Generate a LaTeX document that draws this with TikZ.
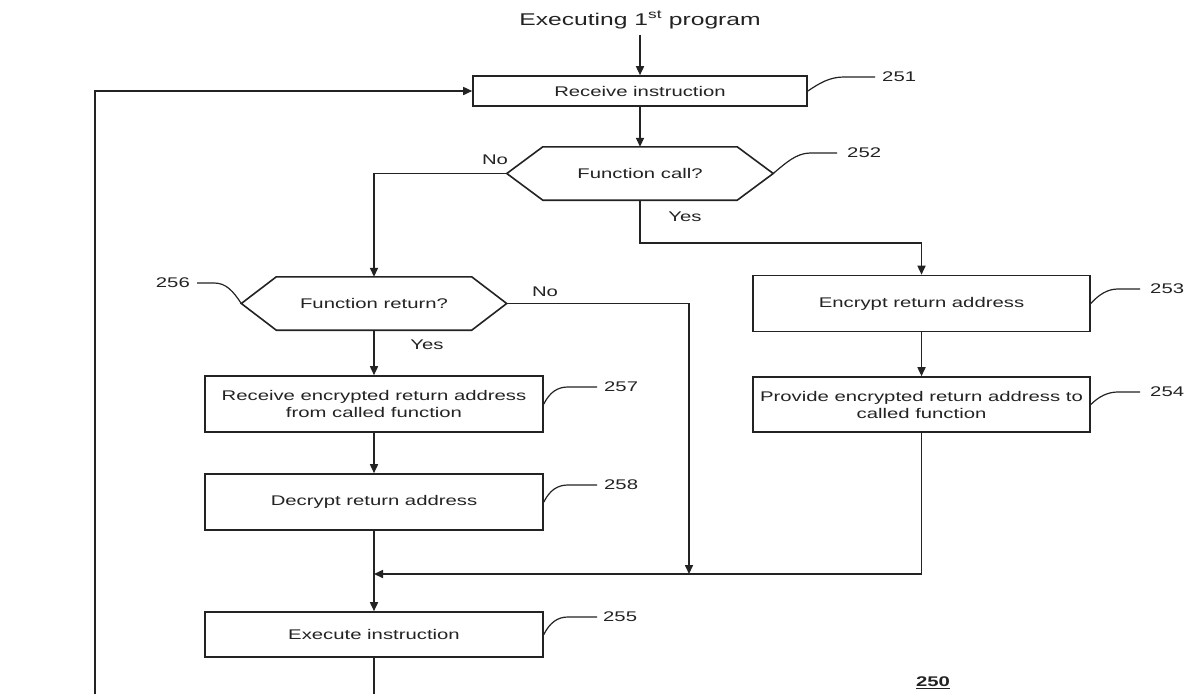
\documentclass[tikz,border=0pt]{standalone}
\usepackage{fontspec}
\setmainfont{Liberation Sans}[FakeStretch=1.45]
\usetikzlibrary{arrows.meta}
\definecolor{ink}{RGB}{35,35,35}
\begin{document}
\begin{tikzpicture}[x=1pt,y=-1pt,
  line/.style={draw=ink, line width=1.6pt},
  arr/.style={line, -{Triangle[length=9pt,width=8pt]}},
  lead/.style={draw=ink, line width=1.2pt},
  txt/.style={text=ink, font=\fontsize{14}{17}\selectfont, inner sep=0pt},
  box/.style={line, txt, rectangle, align=center},
  hexbase/.style={txt, rectangle, minimum height=53pt},
  tag/.style={txt, anchor=west},
  tagl/.style={txt, anchor=east},
  ans/.style={txt}
]
\fill[white] (0,0) rectangle (1198,694);
\useasboundingbox (0,0) rectangle (1198,694);

% start label
\node[txt, font=\fontsize{17}{20}\selectfont] (title) at (640,20) {Executing 1\textsuperscript{st} program};

% process boxes
\node[box, minimum width=334pt, minimum height=30pt] (n251) at (640,91) {Receive instruction};
\node[box, minimum width=337pt, minimum height=56pt] (n253) at (921.5,303.5) {Encrypt return address};
\node[box, minimum width=337pt, minimum height=55pt] (n254) at (921.5,404.5) {Provide encrypted return address to\\called function};
\node[box, minimum width=338pt, minimum height=56pt] (n257) at (374,404) {Receive encrypted return address\\from called function};
\node[box, minimum width=338pt, minimum height=56pt] (n258) at (374,502) {Decrypt return address};
\node[box, minimum width=338pt, minimum height=45pt] (n255) at (374,634.5) {Execute instruction};

% decision hexagons
\node[hexbase, minimum width=266pt] (n252) at (640,173.5) {Function call?};
\draw[line] (n252.west) -- ([xshift=36pt]n252.north west) -- ([xshift=-36pt]n252.north east)
  -- (n252.east) -- ([xshift=-36pt]n252.south east) -- ([xshift=36pt]n252.south west) -- cycle;
\node[hexbase, minimum width=265pt] (n256) at (374,303.5) {Function return?};
\draw[line] (n256.west) -- ([xshift=35pt]n256.north west) -- ([xshift=-35pt]n256.north east)
  -- (n256.east) -- ([xshift=-35pt]n256.south east) -- ([xshift=35pt]n256.south west) -- cycle;

% branch answers
\node[ans] (no1) at (495,160) {No};
\node[ans] (yes1) at (685,217) {Yes};
\node[ans] (no2) at (545,292) {No};
\node[ans] (yes2) at (427,345) {Yes};

% free ends and junctions
\coordinate (mergeL) at (374,574);
\coordinate (mergeR) at (689,574);
\coordinate (exitB) at (374,694);
\coordinate (loopB) at (95,694);

% flow connectors
\draw[arr] ([yshift=-6pt]title.south) -- (n251.north);
\draw[arr] (n251.south) -- (n252.north);
\draw[arr] (n252.west) -| (n256.north);
\draw[arr] (n252.south) -- ++(0,43) -| (n253.north);
\draw[arr] (n253) -- (n254);
\draw[arr] (n254.south) |- (mergeL);
\draw[arr] (n256.east) -| (mergeR);
\draw[arr] (n256) -- (n257);
\draw[arr] (n257) -- (n258);
\draw[arr] (n258) -- (n255);
\draw[line] (n255.south) -- (exitB);
\draw[arr] (loopB) |- (n251.west);

% reference numerals with leaders
\node[tag] (t251) at (882,77) {251};
\node[tag] (t252) at (847,153) {252};
\node[tag] (t253) at (1150,289) {253};
\node[tag] (t254) at (1150,392) {254};
\node[tag] (t257) at (604,387) {257};
\node[tag] (t258) at (604,485) {258};
\node[tag] (t255) at (603,617) {255};
\node[tagl] (t256) at (190,283) {256};

\draw[lead, shorten >=7pt] (n251.east) .. controls +(12,-8) and +(-14,0) .. ++(36,-14) -- (t251.west);
\draw[lead, shorten >=10pt] (n252.east) .. controls +(12,-10) and +(-14,0) .. ++(37,-20.5) -- (t252.west);
\draw[lead, shorten >=10pt] (n253.east) .. controls +(8,-9) and +(-10,0) .. ++(27,-14.5) -- (t253.west);
\draw[lead, shorten >=10pt] (n254.east) .. controls +(8,-8) and +(-10,0) .. ++(27,-12.5) -- (t254.west);
\draw[lead, shorten >=7pt] (n257.east) .. controls +(6,-12) and +(-10,0) .. ++(24,-17) -- (t257.west);
\draw[lead, shorten >=7pt] (n258.east) .. controls +(6,-12) and +(-10,0) .. ++(24,-17) -- (t258.west);
\draw[lead, shorten >=6pt] (n255.east) .. controls +(6,-12) and +(-10,0) .. ++(24,-17.5) -- (t255.west);
\draw[lead, shorten >=7pt] (n256.west) .. controls +(-8,-12) and +(12,0) .. ++(-27,-20.5) -- (t256.east);

% figure number
\node[txt, font=\fontsize{14}{17}\selectfont\bfseries] (fig) at (933,683) {\underline{250}};
\end{tikzpicture}
\end{document}
